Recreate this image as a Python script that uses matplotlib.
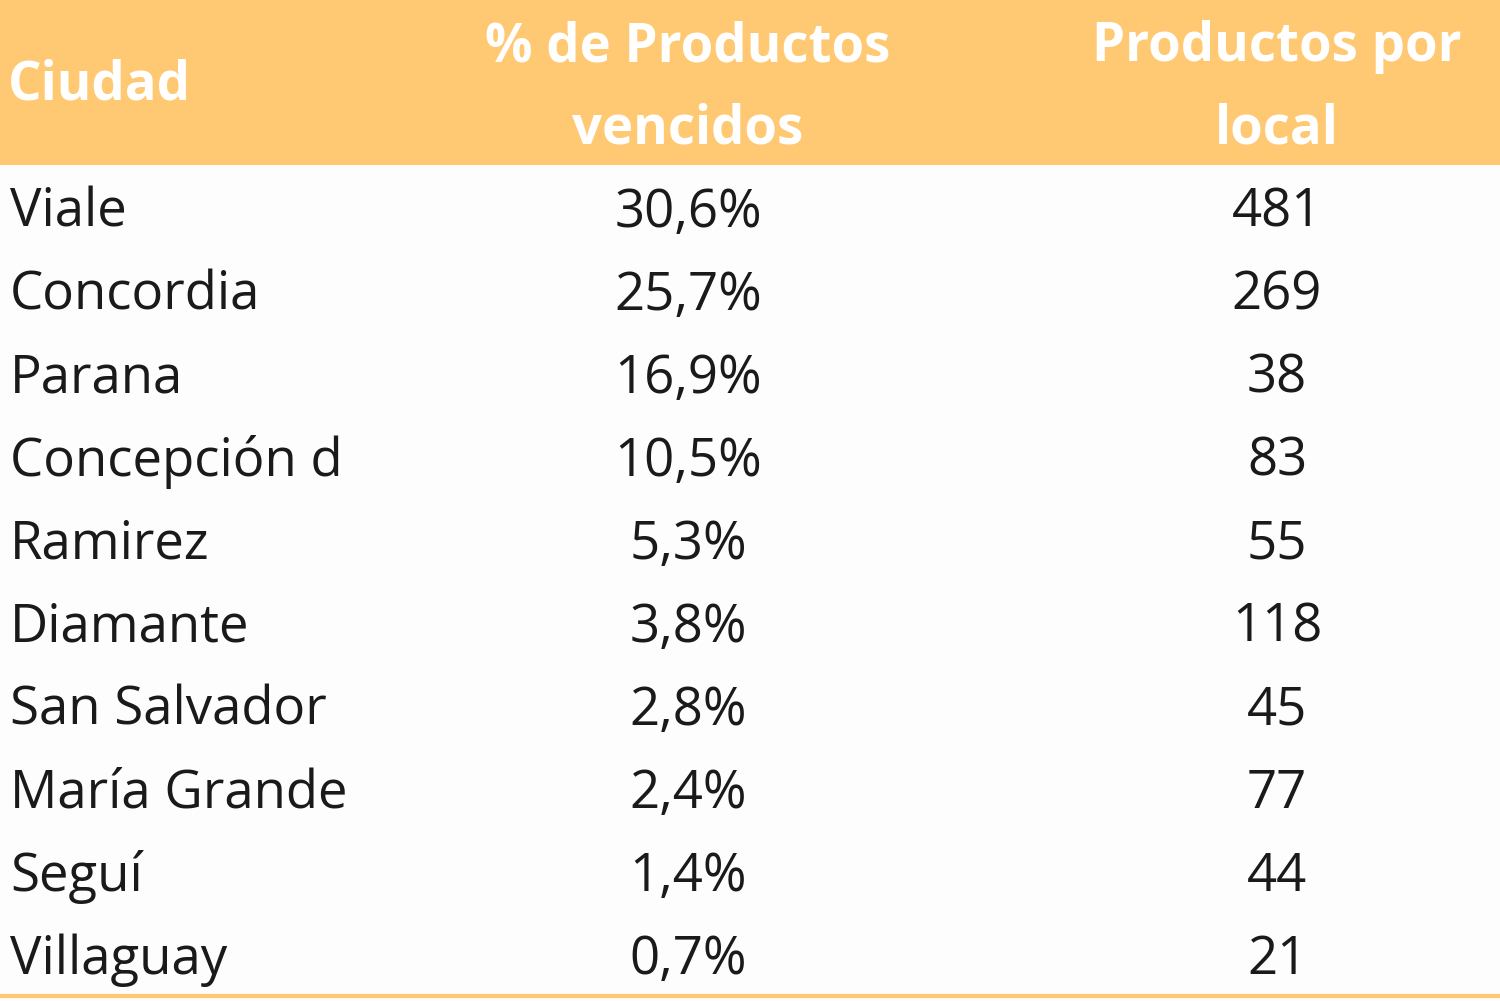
import matplotlib
matplotlib.use("Agg")
import matplotlib.pyplot as plt
from matplotlib.patches import Rectangle

ciudades = ["Viale", "Concordia", "Parana", "Concepción d", "Ramirez", "Diamante",
            "San Salvador", "María Grande", "Seguí", "Villaguay"]
pct_vencidos = [30.6, 25.7, 16.9, 10.5, 5.3, 3.8, 2.8, 2.4, 1.4, 0.7]
productos_local = [481, 269, 38, 83, 55, 118, 45, 77, 44, 21]

HEADER = "#FFC974"
FONT = ["Open Sans", "DejaVu Sans"]

fig = plt.figure(figsize=(15, 10.01), dpi=100)
ax = fig.add_axes([0, 0, 1, 1])
ax.set_xlim(0, 1500)
ax.set_ylim(1001, 0)
ax.axis("off")

ax.add_patch(Rectangle((0, 0), 1500, 165, color=HEADER, lw=0))
ax.add_patch(Rectangle((0, 165), 1500, 836, color="#FDFDFD", lw=0))
ax.plot([0, 1500], [996, 996], color=HEADER, lw=3)

hkw = dict(color="white", fontsize=38, fontweight="bold", family=FONT, va="center")
ax.text(8, 85, "Ciudad", ha="left", **hkw)
ax.text(688, 47, "% de Productos", ha="center", **hkw)
ax.text(688, 130, "vencidos", ha="center", **hkw)
ax.text(1277, 47, "Productos por", ha="center", **hkw)
ax.text(1277, 130, "local", ha="center", **hkw)

bkw = dict(color="#1a1a1a", fontsize=38, family=FONT, va="center")
for i, (c, p, n) in enumerate(zip(ciudades, pct_vencidos, productos_local)):
    y = 213 + i * 83
    ax.text(10, y, c, ha="left", **bkw)
    ax.text(688, y, f"{p:.1f}%".replace(".", ","), ha="center", **bkw)
    ax.text(1277, y, str(n), ha="center", **bkw)

fig.savefig("out.png", dpi=100)
